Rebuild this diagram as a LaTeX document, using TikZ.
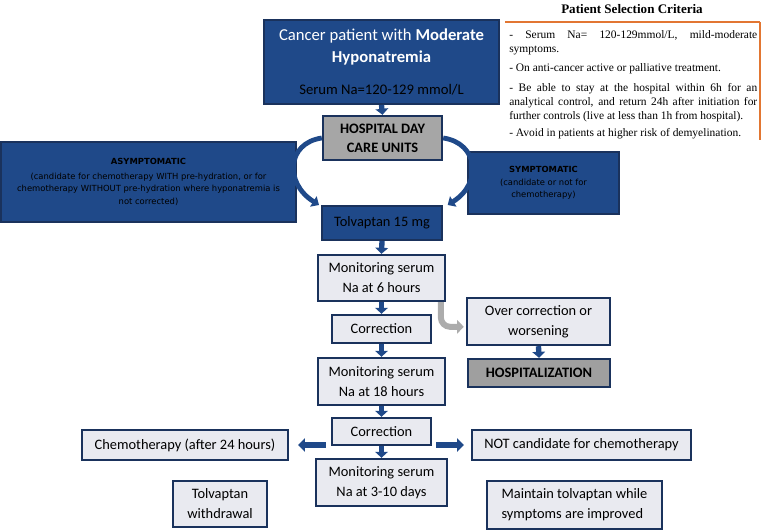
\documentclass[tikz,border=0pt]{standalone}
\usepackage{fontspec}
\setmainfont{Carlito}
\newfontfamily\critfont{Liberation Serif}
\newfontfamily\tahfont{DejaVu Sans}
\usetikzlibrary{arrows.meta}

\definecolor{navyfill}{RGB}{31,73,137}
\definecolor{navyline}{RGB}{26,50,92}
\definecolor{paleblue}{RGB}{233,234,240}
\definecolor{midgrey}{RGB}{166,166,166}
\definecolor{arrowgrey}{RGB}{172,172,172}
\definecolor{critorange}{RGB}{226,118,50}

\begin{document}
\begin{tikzpicture}[x=0.75pt,y=0.75pt,yscale=-1,xscale=1,
  darkbox/.style={draw=navyline,fill=navyfill,text=black,line width=1.5pt,align=center,inner sep=0pt},
  palebox/.style={draw=navyline,fill=paleblue,line width=1.8pt,align=center,inner sep=0pt,font=\fontsize{10.8}{15}\selectfont},
  greybox/.style={palebox,fill=midgrey,font=\fontsize{10.8}{14.5}\selectfont\bfseries},
  smalltext/.style={font=\tahfont\fontsize{6.3}{9.4}\selectfont},
  downarrow/.style={draw=navyfill,line width=4pt,-{Triangle[length=4.5pt,width=9.5pt]}},
  sidearrow/.style={draw=navyfill,line width=5pt,-{Triangle[length=5pt,width=10pt]}},
  bendarrow/.style={draw=navyfill,line width=3.6pt,-{Triangle[length=5pt,width=9pt]}},
  greyarrow/.style={draw=arrowgrey,line width=4.5pt,rounded corners=7pt,-{Triangle[length=5pt,width=10pt]}}
]
\useasboundingbox (0,0) rectangle (761,531);

%Shape: Rectangle -- first box
\node[darkbox,text=white,font=\fontsize{12.5}{16.5}\selectfont,minimum width=176.25pt,minimum height=63pt] (patient) at (381.5,62) {%
  Cancer patient with \textbf{Moderate}\\ \textbf{Hyponatremia}\\[7pt]
  \color{black}\fontsize{11}{13}\selectfont Serum Na=120-129 mmol/L};
%Shape: Rectangle
\node[greybox,minimum width=89.25pt,minimum height=33pt] (daycare) at (382.5,138) {HOSPITAL DAY\\CARE UNITS};
%Shape: Rectangle
\node[darkbox,smalltext,minimum width=221.25pt,minimum height=60pt] (asympt) at (148.5,182) {%
  \textbf{ASYMPTOMATIC}\\[1.5pt](candidate for chemotherapy WITH pre-hydration, or for\\chemotherapy WITHOUT pre-hydration where hyponatremia is\\not corrected)};
%Shape: Rectangle
\node[darkbox,smalltext,minimum width=113.25pt,minimum height=46.5pt] (sympt) at (543.5,183) {%
  \textbf{SYMPTOMATIC}\\(candidate or not for\\chemotherapy)};
%Shape: Rectangle
\node[darkbox,font=\fontsize{10.8}{13}\selectfont,minimum width=90pt,minimum height=25.5pt] (tolva) at (382,223) {Tolvaptan 15 mg};

%Shape: Rectangle -- monitoring column
\node[palebox,minimum width=95.25pt,minimum height=34.5pt] (mon6) at (381.5,278) {Monitoring serum\\Na at 6 hours};
\node[palebox,minimum width=74.25pt,minimum height=21pt] (corr1) at (381.5,329) {Correction};
\node[palebox,minimum width=95.25pt,minimum height=35.25pt] (mon18) at (381.5,381.5) {Monitoring serum\\Na at 18 hours};
\node[palebox,minimum width=74.25pt,minimum height=20.25pt] (corr2) at (381.5,431.5) {Correction};
\node[palebox,minimum width=98.25pt,minimum height=35.25pt] (mon310) at (381.5,482.5) {Monitoring serum\\Na at 3-10 days};

%Shape: Rectangle -- side boxes
\node[palebox,minimum width=107.25pt,minimum height=35.25pt] (overcorr) at (538.5,321.5) {Over correction or\\worsening};
\node[greybox,fill=midgrey!96!black,minimum width=106.5pt,minimum height=21pt] (hospz) at (539,373) {HOSPITALIZATION};
\node[palebox,minimum width=154.5pt,minimum height=22.5pt] (chemo) at (185,445) {Chemotherapy (after 24 hours)};
\node[palebox,minimum width=164.25pt,minimum height=22.5pt] (notcand) at (581.5,445) {NOT candidate for chemotherapy};
\node[palebox,minimum width=70.5pt,minimum height=34.5pt] (withdraw) at (220,504) {Tolvaptan\\withdrawal};
\node[palebox,align=left,minimum width=131.25pt,minimum height=36pt] (maintain) at (574.5,505) {Maintain tolvaptan while\\symptoms are improved};

%Straight Lines -- arrows
\draw[downarrow] (patient.south) -- (daycare.north);
\draw[downarrow] (tolva.south) -- (mon6.north);
\draw[downarrow] (mon6.south) -- (corr1.north);
\draw[downarrow] (corr1.south) -- (mon18.north);
\draw[downarrow] (mon18.south) -- (corr2.north);
\draw[downarrow] (corr2.south) -- (mon310.north);
\draw[downarrow] (overcorr.south) -- (hospz.north);
\draw[sidearrow] ([xshift=-3.75pt]corr2.west |- chemo.east) -- ([xshift=6.75pt]chemo.east);
\draw[sidearrow] ([xshift=3pt]corr2.east |- notcand.west) -- ([xshift=-5.25pt]notcand.west);
\draw[greyarrow] ([xshift=-4pt]mon6.south east) |- ([yshift=4pt,xshift=-1.5pt]overcorr.west);

%Curve Lines
\draw[bendarrow] (daycare.west) .. controls +(-35,5) and +(-35,-22) .. ([xshift=-1.5pt]tolva.north west);
\draw[bendarrow] (daycare.east) .. controls +(35,5) and +(35,-22) .. ([xshift=3.5pt]tolva.north east);

% Text Node -- selection criteria
\node[font=\critfont\fontsize{9.8}{11}\selectfont\bfseries] (crittitle) at (632,9) {Patient Selection Criteria};
\node[anchor=north west,inner sep=0pt,text width=186pt,align=justify,font=\critfont\fontsize{8.6}{10.6}\selectfont] (criteria) at (509,30) {%
  - Serum Na= 120-129mmol/L, mild-moderate\linebreak symptoms.\\[3.6pt]
  - On anti-cancer active or palliative treatment.\\[4.4pt]
  - Be able to stay at the hospital within 6h for an\linebreak analytical control, and return 24h after initiation for\linebreak further controls (live at less than 1h from hospital).\\[2.4pt]
  - Avoid in patients at higher risk of demyelination.};
%Straight Lines
\draw[critorange,line width=1.5pt] (505,22) -- (760,22);
\draw[critorange,line width=0.8pt] (760,22) -- (760,140);

\end{tikzpicture}
\end{document}
